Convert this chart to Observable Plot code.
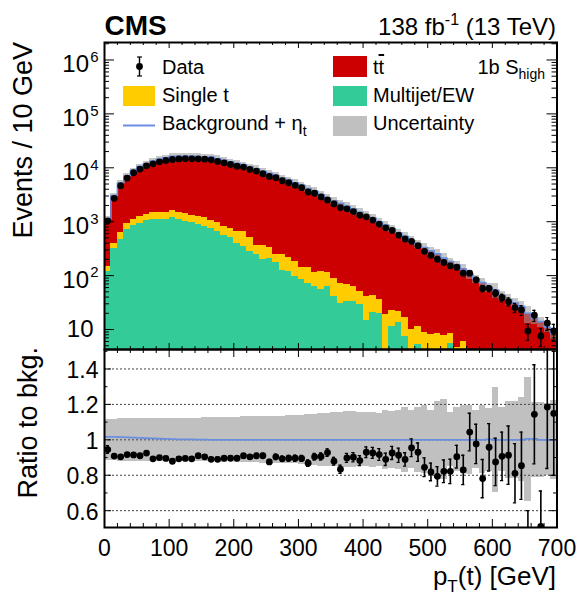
<!DOCTYPE html>
<html><head><meta charset="utf-8">
<script src="https://cdn.jsdelivr.net/npm/d3@7"></script>
<script src="https://cdn.jsdelivr.net/npm/@observablehq/plot@0.6"></script>
<style>
body{margin:0;background:#fff;}
#fig{position:relative;width:580px;height:604px;overflow:hidden;background:#fff;}
#fig svg{position:absolute;left:0;overflow:visible;}
</style></head><body><div id="fig"></div>
<script>
// ---- data (10 GeV bins, 0-700 GeV) ----
const binLow = d3.range(0, 700, 10);
const data = [1040,2720,4650,6450,8090,9460,10900,11850,12900,13700,
  14300,14600,14750,14700,14650,14450,14060,13120,12360,11560,
  10740,10300,9330,8710,7760,6930,6550,5750,5280,4730,
  4280,3560,3370,2880,2540,2140,1830,1730,1540,1320,
  1230,1070,904,771,689,566,478,432,359,282,
  238,201,175,152,143,111,111,83.6,57.8,57.8,
  47.3,38.9,32.9,25.5,23.0,9.4,18.4,7.6,13.1,9.4];
const dataErr = [32,52,68,80,90,97,104,109,114,117,
  120,121,121,121,121,120,119,115,111,108,
  104,101,97,93,88,83,81,76,73,69,
  65,60,58,54,50,46,43,42,39,36,
  35,33,30,28,26,24,22,21,19,17,
  15,14,13,12,12,11,11,9.1,7.6,7.6,
  6.9,6.2,5.7,5.0,4.8,3.1,4.3,2.8,3.6,3.1];
const multijet = [121,323,468,706,838,939,1052,1114,1120,1105,
  1214,1083,1023,953,875,827,738,667,555,502,
  400,347,276,243,202,205,177,124,117,96,
  86,70,63,55,64,41.5,31,33,33,29,
  15,21,19.5,0,11.4,13.7,7.4,0,5.3,0,
  0,0,0,5.4,0,0,0,0,0,0,
  0,0,0,0,0,0,0,0,0,0];
const singleTop = [26,77,172,207,261,292,308,389,389,348,
  378,420,396,368,356,370,314,313,272,257,
  267,311,240,114,155,132,69,122,103,87,
  57,69,53,64,52,45.5,41,34.5,30,22,
  26,22,16.5,18.7,11.6,8.3,9.6,10,6.1,8.9,
  8,8.4,7.7,2.9,4.6,6,0,0,0,0,
  0,0,0,0,0,0,0,0,0,0];
const ttbar = [953,2600,4510,6130,7740,9170,10410,11780,12830,13870,
  14670,14900,14960,15080,14880,14780,14750,13760,12960,12140,
  11310,10660,9800,9210,8170,7580,6990,6190,5680,5100,
  4640,3970,3600,3060,2610,2340,2120,1860,1650,1450,
  1280,1120,950,847,721,597,520,439,373,324,
  281,245,203,175,152,127,106,86,74,60,
  54,43,36,31,27,20,16,14,11,8.5];
const uncert = [.116,.116,.120,.121,.121,.122,.121,.122,.122,.121,
  .122,.123,.122,.121,.123,.124,.125,.124,.126,.125,
  .127,.129,.130,.130,.131,.132,.133,.134,.135,.135,
  .137,.142,.145,.148,.150,.152,.152,.159,.158,.153,
  .153,.154,.150,.166,.162,.168,.185,.163,.185,.191,
  .166,.216,.225,.153,.181,.191,.195,.163,.191,.176,
  .295,.181,.216,.219,.238,.351,.210,.210,.204,.223];
const etaRatio = [1.017,1.017,1.015,1.014,1.012,1.011,1.009,1.008,1.006,1.005,
  1.004,1.003,1.002,1.002,1.001,1.001,1.000,1.000,1.000,1.000,
  1.000,1.000,1.000,1.000,1.000,1.000,1.000,1.000,1.000,1.000,
  1.000,1.000,1.000,1.000,1.000,1.000,1.000,1.000,1.000,1.000,
  1.000,1.000,1.000,1.000,1.000,1.000,1.000,1.000,1.000,1.000,
  1.000,1.000,1.000,1.000,1.000,1.000,1.000,1.000,1.000,1.003,
  1.000,1.000,1.000,1.000,1.000,1.005,1.005,1.000,1.000,1.000];
const ratio = [0.945,0.908,0.904,0.917,0.915,0.910,0.925,0.893,0.900,0.895,
  0.879,0.893,0.895,0.893,0.910,0.904,0.890,0.890,0.896,0.896,
  0.896,0.910,0.904,0.910,0.910,0.875,0.904,0.893,0.896,0.896,
  0.895,0.868,0.904,0.906,0.928,0.879,0.834,0.898,0.902,0.883,
  0.930,0.926,0.917,0.890,0.926,0.913,0.889,0.955,0.930,0.845,
  0.819,0.794,0.822,0.822,0.905,0.830,1.044,0.977,0.781,0.958,
  0.875,0.907,0.913,0.811,0.854,0.40,1.144,0.511,1.185,1.149];
const ratioErr = [0.022,0.012,0.011,0.011,0.011,0.011,0.011,0.011,0.011,0.011,
  0.011,0.011,0.011,0.011,0.011,0.011,0.011,0.012,0.012,0.012,
  0.012,0.012,0.013,0.013,0.014,0.014,0.015,0.015,0.016,0.017,
  0.017,0.018,0.019,0.020,0.021,0.022,0.023,0.025,0.026,0.028,
  0.030,0.031,0.033,0.035,0.037,0.040,0.038,0.050,0.052,0.053,
  0.050,0.055,0.064,0.069,0.064,0.083,0.106,0.111,0.108,0.134,
  0.134,0.137,0.165,0.167,0.190,0.20,0.28,0.20,0.347,0.35];
const xMajor = [0,100,200,300,400,500,600,700];
const xTickLabels = ["0","100","200","300","400","500","600","700"];
const yTopMajor = [10,100,1e3,1e4,1e5,1e6];
const ratioMajor = [0.6,0.8,1,1.2,1.4];
const ratioLabels = ["0.6","0.8","1","1.2","1.4"];
const ratioMinor = [0.7,0.9,1.1,1.3,1.5];

// ---- colours / style ----
const FONT = "'Liberation Sans', Arial, Helvetica, sans-serif";
const C = {tt:"#cc0000", st:"#ffcc00", mj:"#33cc99", unc:"#c0c0c0", eta:"#6a8ee0"};

// ---- derived table ----
const topDomain = [4.26, 2.11e6];
const floorV = 1;
const rows = binLow.map((x, i) => {
  const g = multijet[i], gs = multijet[i] + singleTop[i], tot = gs + ttbar[i];
  return {x1: x, x2: x + 10, xc: x + 5, g: Math.max(g, floorV), gs: Math.max(gs, floorV), tot,
    u: uncert[i], eta: etaRatio[i], d: data[i], de: dataErr[i], r: ratio[i], re: ratioErr[i]};
});
const etaTop = rows.flatMap(d => [{x: d.x1, y: d.tot * d.eta}, {x: d.x2, y: d.tot * d.eta}]);
const etaRat = rows.flatMap(d => [{x: d.x1, y: d.eta}, {x: d.x2, y: d.eta}]);
const xMinor = d3.range(0, 701, 20).filter(v => v % 100 !== 0);
const yTopMinor = [];
for (let k = 0; k <= 6; k++) for (let m = 2; m <= 9; m++) {
  const v = m * Math.pow(10, k);
  if (v > topDomain[0] && v < topDomain[1]) yTopMinor.push(v);
}

const W = 580, mL = 104, mR = 23.5;
const PW = W - mL - mR;
const fig = document.getElementById("fig");

// ---- top panel ----
const topH = 360, topMT = 42, topMB = 11;
const TH = topH - topMT - topMB;
const topPlot = Plot.plot({
  width: W, height: topH, marginLeft: mL, marginRight: mR, marginTop: topMT, marginBottom: topMB,
  style: {background: "transparent", fontFamily: FONT, overflow: "visible", color: "black"},
  x: {domain: [0, 700], axis: null},
  y: {type: "log", domain: topDomain},
  marks: [
    Plot.rect(rows, {x1: "x1", x2: "x2", y1: floorV / 2, y2: "g", fill: C.mj, clip: true, shapeRendering: "crispEdges"}),
    Plot.rect(rows, {x1: "x1", x2: "x2", y1: "g", y2: "gs", fill: C.st, clip: true, shapeRendering: "crispEdges"}),
    Plot.rect(rows, {x1: "x1", x2: "x2", y1: "gs", y2: "tot", fill: C.tt, clip: true, shapeRendering: "crispEdges"}),
    Plot.rect(rows, {x1: "x1", x2: "x2", y1: d => d.tot * (1 - d.u), y2: d => d.tot * (1 + d.u), fill: "#999999", fillOpacity: 0.55, clip: true, shapeRendering: "crispEdges"}),
    Plot.line(etaTop, {x: "x", y: "y", stroke: C.eta, strokeWidth: 1.6, clip: true}),
    Plot.ruleX(rows, {x: "xc", y1: d => Math.max(d.d - d.de, 0.1), y2: d => d.d + d.de, stroke: "black", strokeWidth: 1.4, clip: true}),
    Plot.ruleY(rows, {y: d => d.d + d.de, x1: d => d.xc - 2.5, x2: d => d.xc + 2.5, stroke: "black", strokeWidth: 1.2, clip: true}),
    Plot.ruleY(rows, {y: d => Math.max(d.d - d.de, 0.1), x1: d => d.xc - 2.5, x2: d => d.xc + 2.5, stroke: "black", strokeWidth: 1.2, clip: true}),
    Plot.dot(rows, {x: "xc", y: "d", r: 3.4, fill: "black", stroke: "none", clip: true}),
    // inward ticks
    Plot.ruleY(yTopMajor, {insetRight: PW - 10, stroke: "black"}),
    Plot.ruleY(yTopMinor, {insetRight: PW - 5, stroke: "black"}),
    Plot.ruleY(yTopMajor, {insetLeft: PW - 10, stroke: "black"}),
    Plot.ruleY(yTopMinor, {insetLeft: PW - 5, stroke: "black"}),
    Plot.ruleX(xMajor, {insetTop: TH - 6, stroke: "black"}),
    Plot.ruleX(xMinor, {insetTop: TH - 3, stroke: "black"}),
    Plot.ruleX(xMajor, {insetBottom: TH - 6, stroke: "black"}),
    Plot.ruleX(xMinor, {insetBottom: TH - 3, stroke: "black"}),
    // tick labels: "10" with exponent
    Plot.axisY({ticks: yTopMajor.slice(1), tickSize: 0, tickPadding: 15.5, tickFormat: () => "10", fontSize: 24, dy: 4.5, label: null}),
    Plot.axisY({ticks: yTopMajor.slice(1), tickSize: 0, tickPadding: 6, tickFormat: d => String(Math.round(Math.log10(d))), fontSize: 15, dy: -3, label: null}),
    Plot.axisY({ticks: [10], tickSize: 0, tickPadding: 11, tickFormat: () => "10", fontSize: 24, dy: 0, label: null}),
    Plot.frame({stroke: "black", strokeWidth: 2})
  ]
});
topPlot.style.top = "0px";
fig.appendChild(topPlot);

// ---- ratio panel ----
const botTop = 340, botH = 264, botMT = 9, botMB = 77;
const BH = botH - botMT - botMB;
const botPlot = Plot.plot({
  width: W, height: botH, marginLeft: mL, marginRight: mR, marginTop: botMT, marginBottom: botMB,
  style: {background: "transparent", fontFamily: FONT, overflow: "visible", color: "black"},
  x: {domain: [0, 700]},
  y: {domain: [0.505, 1.51]},
  marks: [
    Plot.rect(rows, {x1: "x1", x2: "x2", y1: d => 1 - d.u, y2: d => 1 + d.u, fill: C.unc, clip: true, shapeRendering: "crispEdges"}),
    Plot.ruleY(ratioMajor, {stroke: "#444", strokeWidth: 1, strokeDasharray: "2,2"}),
    Plot.line(etaRat, {x: "x", y: "y", stroke: C.eta, strokeWidth: 1.8, clip: true}),
    Plot.ruleX(rows, {x: "xc", y1: d => d.r - d.re, y2: d => d.r + d.re, stroke: "black", strokeWidth: 1.6, clip: true}),
    Plot.ruleY(rows, {y: d => d.r + d.re, x1: d => d.xc - 2.5, x2: d => d.xc + 2.5, stroke: "black", strokeWidth: 1.3, clip: true}),
    Plot.ruleY(rows, {y: d => d.r - d.re, x1: d => d.xc - 2.5, x2: d => d.xc + 2.5, stroke: "black", strokeWidth: 1.3, clip: true}),
    Plot.dot(rows, {x: "xc", y: "r", r: 3.4, fill: "black", stroke: "none", clip: true}),
    Plot.ruleY(ratioMajor, {insetRight: PW - 7, stroke: "black"}),
    Plot.ruleY(ratioMinor, {insetRight: PW - 3.5, stroke: "black"}),
    Plot.ruleY(ratioMajor, {insetLeft: PW - 7, stroke: "black"}),
    Plot.ruleY(ratioMinor, {insetLeft: PW - 3.5, stroke: "black"}),
    Plot.ruleX(xMajor, {insetTop: BH - 8, stroke: "black"}),
    Plot.ruleX(xMinor, {insetTop: BH - 4, stroke: "black"}),
    Plot.ruleX(xMajor, {insetBottom: BH - 8, stroke: "black"}),
    Plot.ruleX(xMinor, {insetBottom: BH - 4, stroke: "black"}),
    Plot.axisX({ticks: xMajor, tickSize: 0, tickPadding: 12, tickFormat: d => xTickLabels[xMajor.indexOf(d)], fontSize: 23, label: null}),
    Plot.axisY({ticks: ratioMajor, tickSize: 0, tickPadding: 6, tickFormat: d => ratioLabels[ratioMajor.indexOf(d)], fontSize: 23, dy: 1.5, label: null}),
    Plot.frame({stroke: "black", strokeWidth: 2})
  ]
});
botPlot.style.top = botTop + "px";
fig.appendChild(botPlot);

// ---- annotations / legend overlay ----
const ov = d3.select(fig).append("svg").attr("width", W).attr("height", 604)
  .style("top", "0px").style("pointer-events", "none");
function txt(x, y, parts, {anchor = "start", weight = "normal", rotate = 0} = {}) {
  const t = ov.append("text").attr("transform", `translate(${x},${y}) rotate(${rotate})`)
    .attr("text-anchor", anchor).attr("font-weight", weight)
    .attr("font-family", FONT).attr("fill", "black");
  for (const p of parts) {
    const s = t.append("tspan").text(p.t).attr("font-size", p.size);
    if (p.dy) s.attr("dy", p.dy);
    if (p.over) s.style("text-decoration", "overline");
  }
}
txt(104.5, 35, [{t: "CMS", size: 28}], {weight: "bold"});
txt(556, 35, [{t: "138 fb", size: 24}, {t: "-1", size: 16, dy: -10}, {t: " (13 TeV)", size: 24, dy: 10}], {anchor: "end"});
txt(545, 73.5, [{t: "1b S", size: 20}, {t: "high", size: 14, dy: 5}], {anchor: "end"});
txt(31.5, 42, [{t: "Events / 10 GeV", size: 27}], {anchor: "end", rotate: -90});
txt(36.5, 347, [{t: "Ratio to bkg.", size: 27}], {anchor: "end", rotate: -90});
txt(556, 584.5, [{t: "p", size: 26}, {t: "T", size: 17, dy: 7}, {t: "(t) [GeV]", size: 26, dy: -7}], {anchor: "end"});

// legend
ov.append("line").attr("x1", 139.5).attr("x2", 139.5).attr("y1", 57).attr("y2", 76).attr("stroke", "black").attr("stroke-width", 1.4);
ov.append("line").attr("x1", 137).attr("x2", 142).attr("y1", 57).attr("y2", 57).attr("stroke", "black").attr("stroke-width", 1.2);
ov.append("line").attr("x1", 137).attr("x2", 142).attr("y1", 76).attr("y2", 76).attr("stroke", "black").attr("stroke-width", 1.2);
ov.append("circle").attr("cx", 139.5).attr("cy", 66.5).attr("r", 3.4).attr("fill", "black");
txt(162, 74, [{t: "Data", size: 20}]);
ov.append("rect").attr("x", 123).attr("y", 86).attr("width", 32).attr("height", 20).attr("fill", C.st);
txt(162, 102, [{t: "Single t", size: 20}]);
ov.append("line").attr("x1", 123).attr("x2", 155).attr("y1", 125.5).attr("y2", 125.5).attr("stroke", C.eta).attr("stroke-width", 2);
txt(162, 130, [{t: "Background + η", size: 20}, {t: "t", size: 14, dy: 6}]);
ov.append("rect").attr("x", 333).attr("y", 56).attr("width", 34).attr("height", 21).attr("fill", C.tt);
txt(373, 74, [{t: "t", size: 20}, {t: "t", size: 20, over: true}]);
ov.append("rect").attr("x", 333).attr("y", 86).attr("width", 34).attr("height", 20).attr("fill", C.mj);
txt(373, 102, [{t: "Multijet/EW", size: 20}]);
ov.append("rect").attr("x", 333).attr("y", 116).attr("width", 34).attr("height", 20).attr("fill", C.unc);
txt(373, 130, [{t: "Uncertainty", size: 20}]);
</script></body></html>
